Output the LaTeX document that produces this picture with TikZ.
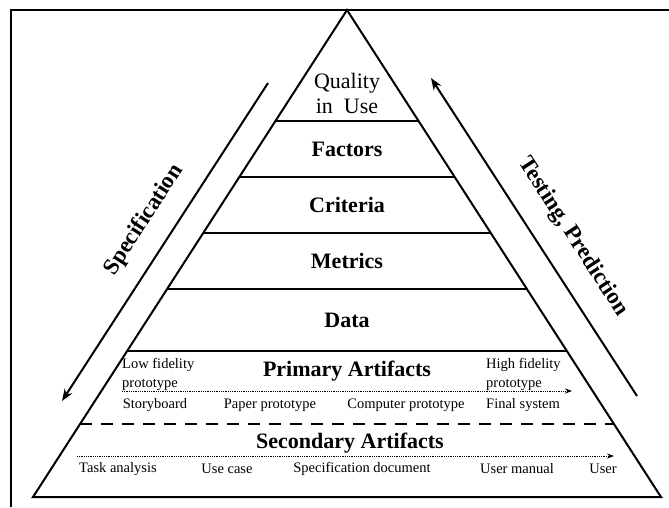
\documentclass[tikz,border=0pt]{standalone}
\usepackage{fontspec}
\setmainfont{Liberation Serif}
\usepackage{tikz}
\usetikzlibrary{arrows.meta, calc}
\tikzstyle{layer} = [font=\fontsize{22}{26}\selectfont\bfseries, inner sep=0pt]
\tikzstyle{quality} = [font=\fontsize{22}{25}\selectfont, align=center, inner sep=0pt]
\tikzstyle{artefact} = [font=\fontsize{14.5}{19}\selectfont, inner sep=0pt]
\tikzstyle{sidelabel} = [font=\fontsize{23}{27}\selectfont\bfseries, inner sep=0pt]
\tikzstyle{sidearrow} = [-{Stealth[length=12pt, width=9pt]}, line width=2pt]
\tikzstyle{flow} = [-{Stealth[length=7pt, width=5pt]}, densely dotted, line width=0.8pt]
\tikzstyle{tier} = [line width=2pt]

\begin{document}
\begin{tikzpicture}[x=1pt, y=-1pt]
    \useasboundingbox (0,0) rectangle (669,507);
    % Frame (cut at right and bottom)
    \draw[line width=1.5pt] (11,507) -- (11,10) -- (669,10);

    % Pyramid
    \coordinate (top) at (347,10);
    \coordinate (bl) at (33,497);
    \coordinate (br) at (661,497);
    \draw[tier] (bl) -- (top) -- (br) -- cycle;
    \foreach \t in {0.2279, 0.3429, 0.4579, 0.5729}
        \draw[tier] ($(top)!\t!(bl)$) -- ($(top)!\t!(br)$);
    \draw[tier, line width=2.6pt] ($(top)!0.7002!(bl)$) -- ($(top)!0.7002!(br)$);
    \draw[tier, line width=2.5pt, dash pattern=on 12pt off 9pt] ($(top)!0.8501!(bl)$) -- ($(top)!0.8501!(br)$);

    % Levels
    \node[quality] (quality) at (347,93) {Quality\\in\ \ Use};
    \node[layer] (factors) at (347,149) {Factors};
    \node[layer] (criteria) at (347,205) {Criteria};
    \node[layer] (metrics) at (347,261) {Metrics};
    \node[layer] (data) at (347,320) {Data};

    % Primary artifacts
    \node[layer] (primary) at (347,371) {Primary Artifacts};
    \node[artefact, anchor=west, align=left] (lowfi) at (122,374) {Low fidelity\\prototype};
    \node[artefact, anchor=west, align=left] (highfi) at (486,374) {High fidelity\\prototype};
    \coordinate (pstart) at (122,391);
    \coordinate (pend) at (572,391);
    \draw[flow] (pstart) -- (pend);
    \node[artefact] (story) at (155,405) {Storyboard};
    \node[artefact] (paper) at (270,405) {Paper prototype};
    \node[artefact] (computer) at (406,405) {Computer prototype};
    \node[artefact, anchor=west] (final) at (486,405) {Final system};

    % Secondary artifacts
    \node[layer] (secondary) at (350,443) {Secondary Artifacts};
    \coordinate (sstart) at (77,456);
    \coordinate (send) at (614,456);
    \draw[flow] (sstart) -- (send);
    \node[artefact] (task) at (118,469) {Task analysis};
    \node[artefact] (usecase) at (227,469) {Use case};
    \node[artefact] (specdoc) at (362,469) {Specification document};
    \node[artefact] (manual) at (517,469) {User manual};
    \node[artefact] (user) at (603,469) {User};

    % Side arrows
    \coordinate (specfrom) at (268,83);
    \coordinate (specto) at (62,401);
    \draw[sidearrow] (specfrom) -- (specto);
    \node[sidelabel, rotate=57] (spec) at (144,220) {Specification};
    \coordinate (testfrom) at (637,396);
    \coordinate (testto) at (431,78);
    \draw[sidearrow] (testfrom) -- (testto);
    \node[sidelabel, rotate=-57] (test) at (573,237) {Testing, Prediction};
\end{tikzpicture}
\end{document}
